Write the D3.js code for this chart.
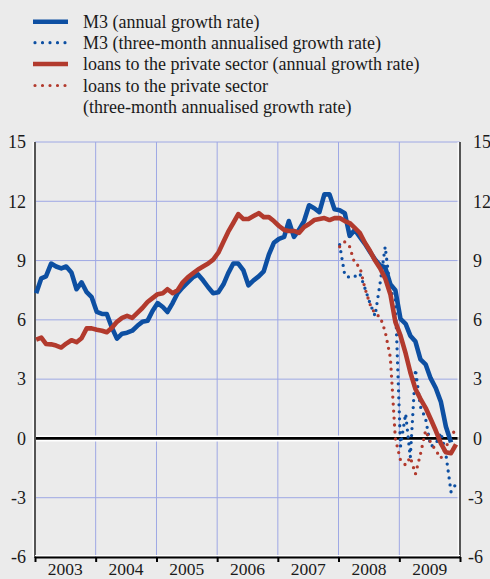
<!DOCTYPE html>
<html>
<head>
<meta charset="utf-8">
<script src="https://cdn.jsdelivr.net/npm/d3@7"></script>
<style>
html,body{margin:0;padding:0;background:#ebebeb;}
svg{display:block;}
text{font-family:"Liberation Serif","Times New Roman",serif;fill:#1a1a1a;}
</style>
</head>
<body>
<svg id="chart" width="490" height="579"></svg>
<script>
// ---------- DATA ----------
const years = ["2003","2004","2005","2006","2007","2008","2009"];
const yTicks = [-6,-3,0,3,6,9,12,15];

// M3 annual growth rate, monthly from Jan 2003 to Nov 2009
const m3Annual = [
  7.35,8.1,8.2,8.85,8.7,8.6,8.7,8.4,7.55,7.9,7.4,7.15,
  6.4,6.3,6.3,5.6,5.05,5.3,5.35,5.45,5.7,5.9,5.95,6.45,
  6.85,6.65,6.4,6.85,7.35,7.65,7.9,8.15,8.3,8.0,7.65,7.35,
  7.4,7.8,8.35,8.85,8.85,8.5,7.75,8.0,8.2,8.45,9.3,9.9,
  10.1,10.2,11.0,10.2,10.55,11.0,11.8,11.65,11.45,12.35,12.35,11.6,
  11.55,11.4,10.25,10.55,10.2,9.85,9.45,9.05,8.75,8.65,7.8,7.5,
  6.05,5.8,5.2,4.9,4.0,3.75,3.05,2.55,1.85,0.6,-0.2
];
// M3 three-month annualised growth rate, monthly from Jan 2008 to Dec 2009
const m3ThreeMonth = [
  9.8,8.25,8.15,8.2,8.35,7.6,6.85,6.2,7.9,9.7,7.5,7.0,
  -0.4,1.25,-0.95,3.5,1.6,1.0,-0.4,-0.3,0.3,-0.8,-2.7,-2.3
];
// loans to the private sector, annual growth rate, Jan 2003 to Dec 2009
const loansAnnual = [
  5.0,5.1,4.78,4.76,4.7,4.6,4.8,4.97,4.87,5.07,5.57,5.57,
  5.5,5.45,5.37,5.6,5.9,6.1,6.2,6.1,6.35,6.6,6.9,7.1,
  7.3,7.35,7.55,7.35,7.5,7.9,8.15,8.35,8.55,8.7,8.85,9.05,
  9.4,9.95,10.45,10.9,11.35,11.1,11.1,11.25,11.4,11.2,11.2,11.0,
  10.75,10.55,10.5,10.5,10.4,10.7,10.85,11.05,11.1,11.15,11.05,11.15,
  11.15,11.0,10.9,10.65,10.4,9.9,9.5,9.0,8.6,8.1,7.3,5.9,
  5.2,4.3,3.35,2.5,2.0,1.55,1.0,0.4,-0.25,-0.7,-0.75,-0.3
];
// loans to the private sector, three-month annualised, Jan 2008 to Dec 2009
const loansThreeMonth = [
  9.7,9.95,9.7,8.85,8.7,7.6,6.8,6.3,6.15,5.4,4.1,0.0,
  -1.1,-1.35,-0.95,-1.8,-0.8,0.4,-0.2,-0.6,-1.0,-0.45,0.1,0.5
];

const legendLabels = [
  ["M3 (annual growth rate)"],
  ["M3 (three-month annualised growth rate)"],
  ["loans to the private sector (annual growth rate)"],
  ["loans to the private sector","(three-month annualised growth rate)"]
];

// ---------- STYLE ----------
const BLUE = "#0d4fa2", RED = "#b23a2d", GRID = "#9ea8e4";

const svg = d3.select("#chart");
svg.append("rect").attr("width",490).attr("height",579).attr("fill","#ebebeb");

const x = d3.scaleTime().domain([new Date(2003,0,1), new Date(2010,0,1)]).range([35,460]);
const y = d3.scaleLinear().domain([-6,15]).range([557,142]);

const monthDate = (startYear, i) => new Date(startYear, i, 8);

const series = [
  {vals: m3ThreeMonth, start: 2008, color: BLUE, dotted: true},
  {vals: loansThreeMonth, start: 2008, color: RED, dotted: true},
  {vals: m3Annual, start: 2003, color: BLUE, dotted: false},
  {vals: loansAnnual, start: 2003, color: RED, dotted: false}
];

// grid
const g = svg.append("g");
g.selectAll("line.h").data(yTicks.filter(d => d !== 0 && d !== -6)).join("line")
  .attr("x1", x.range()[0]).attr("x2", x.range()[1])
  .attr("y1", d => y(d)).attr("y2", d => y(d))
  .attr("stroke", GRID).attr("stroke-width", 1);
const yearStarts = years.map(yr => new Date(+yr, 0, 1));
g.selectAll("line.v").data(yearStarts.slice(1)).join("line")
  .attr("x1", d => x(d)).attr("x2", d => x(d))
  .attr("y1", y(15)).attr("y2", y(-6))
  .attr("stroke", GRID).attr("stroke-width", 1);

// zero line
svg.append("line").attr("x1",35).attr("x2",460).attr("y1",y(0)).attr("y2",y(0))
  .attr("stroke","#ffffff").attr("stroke-width",6);
svg.append("line").attr("x1",35).attr("x2",460).attr("y1",y(0)).attr("y2",y(0))
  .attr("stroke","#000").attr("stroke-width",2.7);

// side axes
[35,460].forEach(px => {
  svg.append("line").attr("x1",px-1.8).attr("x2",px-1.8).attr("y1",y(15)).attr("y2",y(-6))
    .attr("stroke","#fff").attr("stroke-width",1.2);
  svg.append("line").attr("x1",px).attr("x2",px).attr("y1",y(15)).attr("y2",y(-6)+1)
    .attr("stroke","#555").attr("stroke-width",2);
});

// bottom axis
const xAxis = d3.axisBottom(x)
  .tickValues(yearStarts.concat([new Date(2010,0,1)]))
  .tickSize(5).tickSizeOuter(0).tickFormat("");
const ax = svg.append("g").attr("transform", `translate(0,${y(-6)})`).call(xAxis);
ax.select(".domain").attr("stroke","#000").attr("stroke-width",2);
ax.selectAll(".tick line").attr("stroke","#000").attr("stroke-width",2);
svg.append("line").attr("x1",35).attr("x2",460).attr("y1",y(-6)-1.5).attr("y2",y(-6)-1.5)
  .attr("stroke","#fff").attr("stroke-width",1.2);

// year labels
svg.selectAll("text.year").data(years).join("text")
  .attr("class","year")
  .attr("x", d => (x(new Date(+d,0,1)) + x(new Date(+d+1,0,1))) / 2)
  .attr("y", 575).attr("text-anchor","middle").attr("font-size",17.5)
  .text(d => d);

// y tick labels
const fmt = d => String(d);
const yl = svg.append("g").attr("transform","translate(35,0)")
  .call(d3.axisLeft(y).tickValues(yTicks).tickSize(0).tickPadding(9).tickFormat(fmt));
const yr = svg.append("g").attr("transform","translate(460,0)")
  .call(d3.axisRight(y).tickValues(yTicks).tickSize(0).tickPadding(13).tickFormat(fmt));
[yl, yr].forEach(a => {
  a.select(".domain").remove();
  a.selectAll("text").attr("font-size",18).attr("font-family","Liberation Serif, Times New Roman, serif").attr("fill","#1a1a1a");
});
yr.selectAll(".tick text").attr("dx", d => d < 0 ? -5 : 0);

// lines
const line = d3.line().x(d => x(d.date)).y(d => y(d.v));
series.forEach(s => {
  const pts = s.vals.map((v, i) => ({date: monthDate(s.start, i), v}));
  const p = svg.append("path").datum(pts).attr("d", line)
    .attr("fill","none").attr("stroke", s.color);
  if (s.dotted) {
    p.attr("stroke-width",3.3).attr("stroke-linecap","round").attr("stroke-dasharray","0 7");
  } else {
    p.attr("stroke-width",4.6).attr("stroke-linejoin","round");
  }
});

// legend
const legendStyles = [
  {color: BLUE, dotted: false},
  {color: BLUE, dotted: true},
  {color: RED, dotted: false},
  {color: RED, dotted: true}
];
const rowY = [21.7, 42.7, 64, 85.5];
const lg = svg.append("g");
legendStyles.forEach((st, i) => {
  const ly = rowY[i];
  const l = lg.append("line").attr("x1", st.dotted ? 35 : 33).attr("x2", st.dotted ? 66 : 68)
    .attr("y1", ly).attr("y2", ly).attr("stroke", st.color);
  if (st.dotted) l.attr("stroke-width",3.2).attr("stroke-linecap","round").attr("stroke-dasharray","0 7.5");
  else l.attr("stroke-width",4.5);
  legendLabels[i].forEach((t, k) => {
    lg.append("text").attr("x", 83).attr("y", ly + 6.3 + k * 21.3)
      .attr("font-size",18).text(t);
  });
});
</script>
</body>
</html>
